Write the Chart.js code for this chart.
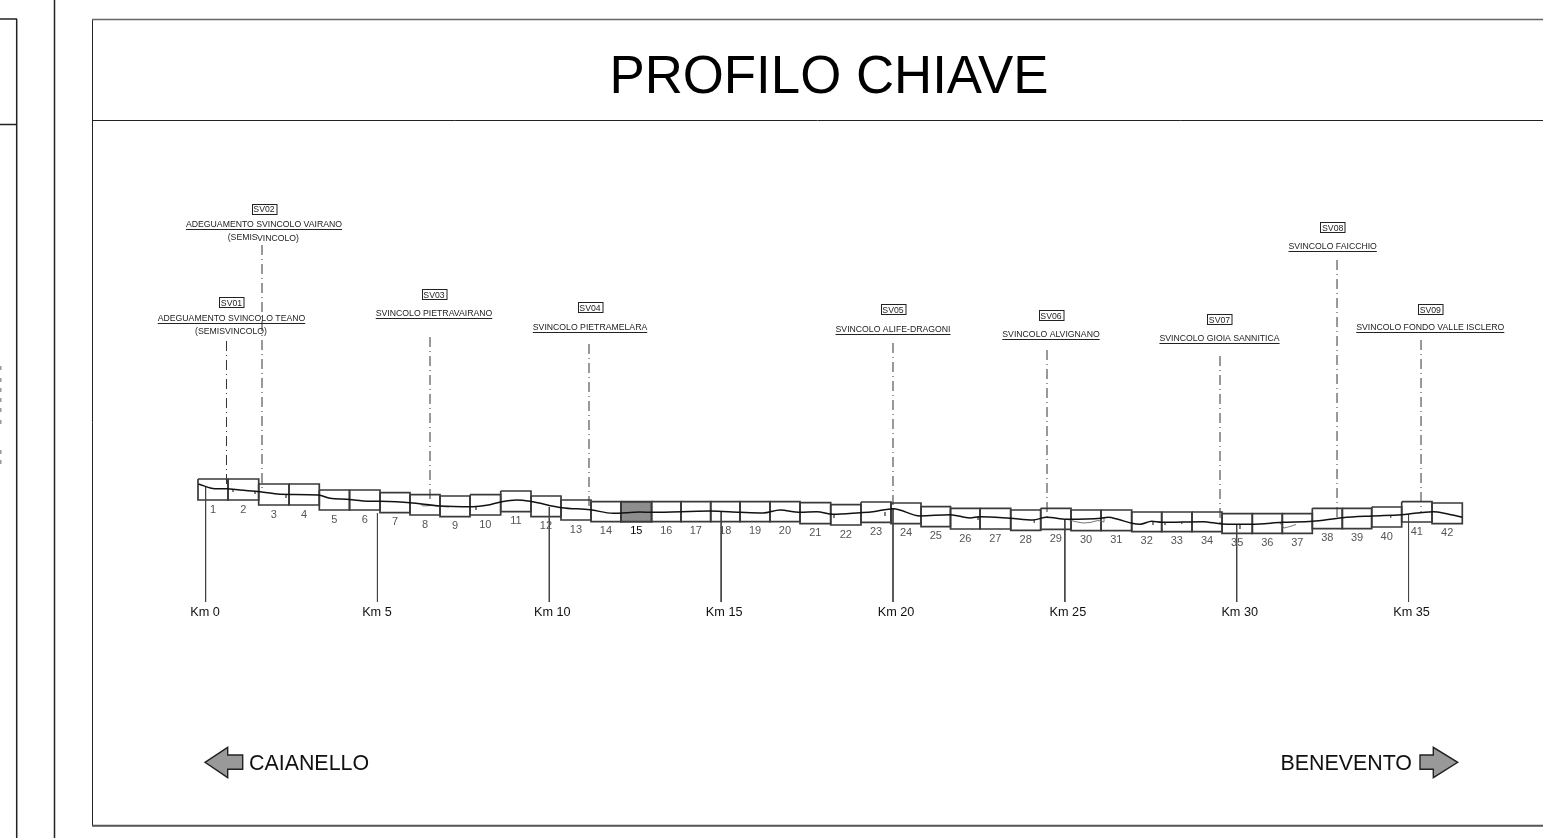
<!DOCTYPE html>
<html>
<head>
<meta charset="utf-8">
<title>Profilo chiave</title>
<script src="https://cdn.jsdelivr.net/npm/chart.js@4"></script>
<style>
    html, body { margin: 0; padding: 0; background: #fff; overflow: hidden; }
    canvas { display: block; }
</style>
</head>
<body>
<canvas id="keyProfile" width="1543" height="838"></canvas>
<script>

// Sheets
const sheetNumbers = [1,2,3,4,5,6,7,8,9,10,11,12,13,14,15,16,17,18,19,20,21,22,23,24,25,26,27,28,29,30,31,32,33,34,35,36,37,38,39,40,41,42];
const activeSheet = 15;
const sheetEdgesKm = [-0.221,0.652,1.545,2.427,3.308,4.187,5.074,5.947,6.820,7.693,8.586,9.467,10.340,11.213,12.086,12.974,13.832,14.696,15.549,16.421,17.294,18.188,19.069,19.942,20.815,21.673,22.531,23.425,24.298,25.179,26.052,26.945,27.818,28.700,29.573,30.454,31.327,32.200,33.073,33.928,34.801,35.683,36.564];
const sheetTops = [479,479,484,484,490,490,492.7,494.7,496,494.7,491,496,500,501.7,501.7,501.7,501.7,501.7,501.7,501.7,502.7,504.7,502,503,506.7,508.3,508.3,510,508.3,510,510,512,512,512,513.7,513.7,513.7,508.3,508.3,507,501.7,503];
const sheetBottoms = [500,500,505,505,510,510,512.7,515,516.7,515,511.7,516.7,520,521.7,521.7,521.7,521.7,521.7,521.7,521.7,523.7,525,522.4,523.7,526.7,529,529,530.3,529.3,530.7,530.7,531.7,531.7,531.7,533.3,533.3,533.3,528.7,528.7,527,522,523.7];

// Road profile
const profileKm = [-0.212,0.273,0.614,1.001,1.583,2.165,3.279,3.620,4.105,4.588,5.074,5.947,6.820,7.780,8.179,8.615,9.051,9.439,10.361,11.184,11.853,12.639,12.980,14.676,15.549,16.218,16.713,17.294,17.780,18.254,19.040,19.418,20.009,20.786,21.659,22.240,22.531,23.404,24.073,24.472,25.055,26.052,26.256,26.547,26.945,27.187,27.527,27.818,29.020,29.573,30.445,31.327,32.200,33.073,33.928,34.801,35.712,36.110,36.564];
const profileY = [484,488.7,488.7,490,491.7,494.3,495,498.3,499.3,501,501.3,502.7,506,506.7,505.3,501.7,500,501.3,507.7,509.7,513.3,512,512.3,511,512.3,513,510,512.3,511.7,514.3,512.7,511.7,508.7,516,514.7,518,516.7,518.3,520,517.3,519.3,518.3,517.3,519.3,523.3,524.3,521.3,522.3,521.7,524,524.3,522.3,521.3,517.7,516,514.7,511.7,513.7,517.3];

// Small works drawn along the profile, null breaks the line
const detailKm = [0.797,0.797,null,1.437,1.437,null,2.339,2.339,null,6.238,6.325,6.529,6.704,6.878,7.082,null,7.867,7.867,null,18.283,18.283,null,19.767,19.767,null,22.473,22.473,null,24.111,24.111,null,25.033,25.295,25.528,25.732,25.964,26.139,26.139,null,27.565,27.565,null,27.914,27.914,null,28.400,28.400,null,30.096,30.096,null,31.26,31.376,31.55,31.725,null,34.48,34.48];
const detailY = [489.5,492,null,491,494,null,494,498,null,503.5,506,505.5,506,506.5,507,null,506,510,null,514,518,null,512,516,null,516,520,null,520,523,null,519,521.5,523,522.5,520.5,522,518,null,522,525,null,522,525,null,522,524,null,524,529,null,523,528,526.5,524.5,null,515,518];

// Kilometre markers
const kmMarkers = [0,5,10,15,20,25,30,35];
const kmMarkerTops = [487,513,507,512,508,520,524,514];
const kmMarkerBottom = 602;

// Junctions
const junctionCodes = ["SV01","SV02","SV03","SV04","SV05","SV06","SV07","SV08","SV09"];
const junctionNames = ["ADEGUAMENTO SVINCOLO TEANO","ADEGUAMENTO SVINCOLO VAIRANO","SVINCOLO PIETRAVAIRANO","SVINCOLO PIETRAMELARA","SVINCOLO ALIFE-DRAGONI","SVINCOLO ALVIGNANO","SVINCOLO GIOIA SANNITICA","SVINCOLO FAICCHIO","SVINCOLO FONDO VALLE ISCLERO"];
const junctionKm = [0.608,1.641,6.529,11.155,20.0,24.481,29.515,32.919,35.363];
const junctionTops = [341,245,337,344,343,350,356,260,340];
const junctionEnds = [488,491.7,503,509,508.7,517,524,518,513];

const TITLE = "PROFILO CHIAVE";
const FONT = '"Liberation Sans", Arial, sans-serif';

// Where each junction label sits on the sheet: centre x, code box top, name baseline
const LABELS = [
    { cx: 231.5,  box: 297,   name: 321 },
    { cx: 264,    box: 203.5, name: 227.3 },
    { cx: 434,    box: 289.3, name: 316 },
    { cx: 590,    box: 302,   name: 329.6 },
    { cx: 893,    box: 304.3, name: 331.7 },
    { cx: 1051,   box: 310,   name: 337 },
    { cx: 1219.5, box: 314,   name: 341 },
    { cx: 1332.7, box: 222,   name: 249.3 },
    { cx: 1430.3, box: 304,   name: 330 },
];

function xy(xs, ys) {
    return xs.map((x, i) => ({ x, y: ys[i] }));
}

function lineDataset(data, color, width, extra) {
    return Object.assign({
        type: "scatter",
        showLine: true,
        data,
        borderColor: color,
        borderWidth: width,
        pointRadius: 0,
        fill: false,
    }, extra);
}

function buildDatasets() {
    const datasets = [];

    // Index 0 is painted last
    datasets.push(lineDataset(xy(profileKm, profileY), "#111", 1.5, { cubicInterpolationMode: "monotone" }));
    datasets.push(lineDataset(xy(detailKm, detailY), "#666", 0.9, { spanGaps: false }));

    junctionKm.forEach((km, i) => {
        datasets.push(lineDataset(xy([km, km], [junctionTops[i], junctionEnds[i]]), "#333", 1, {
            borderDash: [10, 4, 1, 4],
        }));
    });

    kmMarkers.forEach((km, i) => {
        datasets.push(lineDataset(xy([km, km], [kmMarkerTops[i], kmMarkerBottom]), "#444", 1));
    });

    sheetNumbers.forEach((n, i) => {
        const l = sheetEdgesKm[i], r = sheetEdgesKm[i + 1];
        const t = sheetTops[i], b = sheetBottoms[i];
        const active = n === activeSheet;
        datasets.push(lineDataset(xy([l, r, r, l, l], [t, t, b, b, t]), "#3a3a3a", active ? 2 : 1.7, {
            fill: active ? "shape" : false,
            backgroundColor: "#8e8e8e",
        }));
    });

    return datasets;
}

function crispLine(ctx, x1, y1, x2, y2) {
    ctx.beginPath();
    ctx.moveTo(x1, y1);
    ctx.lineTo(x2, y2);
    ctx.stroke();
}

function drawArrow(ctx, pts) {
    ctx.beginPath();
    pts.forEach(([x, y], i) => (i ? ctx.lineTo(x, y) : ctx.moveTo(x, y)));
    ctx.closePath();
    ctx.fillStyle = "#999";
    ctx.fill();
    ctx.strokeStyle = "#222";
    ctx.lineWidth = 1.4;
    ctx.stroke();
}

// Sheet frame and all lettering
const sheetPlugin = {
    id: "sheetPlugin",
    beforeDatasetsDraw(chart) {
        const ctx = chart.ctx;
        ctx.save();
        ctx.strokeStyle = "#222";
        ctx.lineWidth = 1.5;
        crispLine(ctx, 0, 19, 17, 19);
        crispLine(ctx, 0, 124.5, 17, 124.5);
        crispLine(ctx, 16.7, 19, 16.7, 838);
        crispLine(ctx, 54.5, 0, 54.5, 838);
        ctx.lineWidth = 1;
        crispLine(ctx, 92.5, 19, 92.5, 826);
        crispLine(ctx, 92, 120.5, 1543, 120.5);
        ctx.strokeStyle = "#666";
        ctx.lineWidth = 1.5;
        crispLine(ctx, 92, 19.5, 1543, 19.5);
        ctx.strokeStyle = "#555";
        ctx.lineWidth = 2;
        crispLine(ctx, 92, 825.7, 1543, 825.7);

        // Cut-off lettering at the very edge of the sheet
        ctx.fillStyle = "#999";
        [366, 378, 388, 398, 408, 420, 450, 460].forEach(y => ctx.fillRect(0, y, 1.5, 4));
        ctx.restore();
    },
    afterDatasetsDraw(chart) {
        const ctx = chart.ctx;
        const xs = chart.scales.x, ys = chart.scales.y;
        ctx.save();
        ctx.textBaseline = "alphabetic";

        // Title
        ctx.fillStyle = "#000";
        ctx.textAlign = "center";
        ctx.font = `52.8px ${FONT}`;
        ctx.fillText(TITLE, 829, 92.5);

        // Sheet numbers
        ctx.font = `11px ${FONT}`;
        ctx.textBaseline = "middle";
        sheetNumbers.forEach((n, i) => {
            const cx = xs.getPixelForValue((sheetEdgesKm[i] + sheetEdgesKm[i + 1]) / 2);
            ctx.fillStyle = n === activeSheet ? "#000" : "#555";
            ctx.fillText(String(n), cx, ys.getPixelForValue(sheetBottoms[i] + 9.5));
        });
        ctx.textBaseline = "alphabetic";

        // Km labels start a fixed step left of their line
        ctx.fillStyle = "#111";
        ctx.font = `12.7px ${FONT}`;
        ctx.textAlign = "left";
        kmMarkers.forEach(km => {
            ctx.fillText(`Km ${km}`, xs.getPixelForValue(km) - 15.3, ys.getPixelForValue(615.5));
        });

        // Junction labels
        ctx.textAlign = "center";
        junctionCodes.forEach((code, i) => {
            const lab = LABELS[i];
            ctx.fillStyle = "#222";
            ctx.strokeStyle = "#222";
            ctx.lineWidth = 1;
            ctx.font = `8.7px ${FONT}`;
            ctx.strokeRect(Math.round(lab.cx - 12.5) + 0.5, Math.round(lab.box) + 0.5, 24.5, 10);
            ctx.fillText(code, lab.cx, lab.box + 8.6);

            const w = ctx.measureText(junctionNames[i]).width;
            ctx.fillText(junctionNames[i], lab.cx, lab.name);
            crispLine(ctx, lab.cx - w / 2, Math.round(lab.name) + 2.5, lab.cx + w / 2, Math.round(lab.name) + 2.5);
        });

        // The two notes sit slightly off, as on the drawing
        ctx.fillStyle = "#222";
        ctx.fillText("(SEMISVINCOLO)", 231, 334.3);
        ctx.textAlign = "left";
        ctx.fillText("(SEMIS", 227.7, 240);
        ctx.fillText("VINCOLO)", 257, 241);

        // Direction arrows
        drawArrow(ctx, [[205, 762.3], [227.7, 747.3], [227.7, 755], [242.7, 755], [242.7, 769.3], [227.7, 769.3], [227.7, 777.7]]);
        drawArrow(ctx, [[1420, 755], [1433.3, 755], [1433.3, 747.3], [1457.7, 762.3], [1433.3, 777.7], [1433.3, 769.3], [1420, 769.3]]);
        ctx.fillStyle = "#111";
        ctx.font = `21.4px ${FONT}`;
        ctx.textAlign = "left";
        ctx.fillText("CAIANELLO", 249, 769.5);
        ctx.textAlign = "right";
        ctx.fillText("BENEVENTO", 1412, 769.5);

        ctx.restore();
    },
};

const ctx = document.getElementById("keyProfile").getContext("2d");
new Chart(ctx, {
    type: "scatter",
    data: { datasets: buildDatasets() },
    plugins: [sheetPlugin],
    options: {
        responsive: false,
        animation: false,
        devicePixelRatio: 1,
        layout: { padding: 0 },
        scales: {
            x: { type: "linear", display: false, min: -5.982, max: 38.912 },
            y: { type: "linear", display: false, min: 0, max: 838, reverse: true },
        },
        plugins: {
            legend: { display: false },
            tooltip: { enabled: false },
        },
    },
});
</script>
</body>
</html>
